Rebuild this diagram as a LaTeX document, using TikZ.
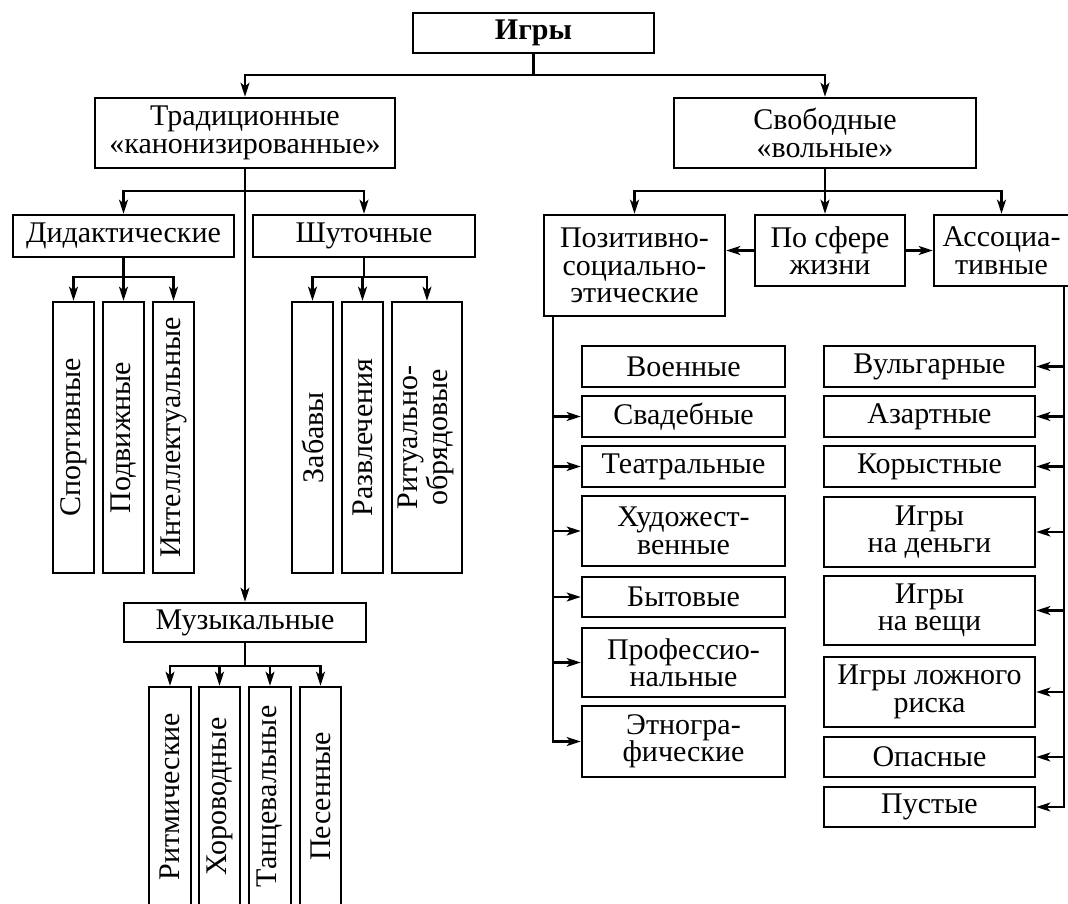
\documentclass[tikz,border=0pt]{standalone}
\usepackage{fontspec}
\setmainfont{Liberation Serif}
\usepackage{graphicx}
\usetikzlibrary{arrows.meta}
\begin{document}
\begin{tikzpicture}[x=1pt,y=-1pt,
  box/.style={draw, line width=2.6pt, inner sep=0pt, align=center,
    font=\fontsize{30}{27.5}\selectfont},
  arr/.style={line width=2.3pt, -{Stealth[length=14pt,width=9pt,inset=3.5pt]}},
  ln/.style={line width=2.3pt}]
\useasboundingbox (0,0) rectangle (1068,904);
\fill[white] (0,0) rectangle (1068,904);
\clip (0,0) rectangle (1068,904);
% top
\node[box, minimum width=241, minimum height=40] (igry) at (533.5,33) {\bfseries Игры};
\node[box, minimum width=300, minimum height=70] (trad) at (245,133) {Традиционные\\«канонизированные»};
\node[box, minimum width=302, minimum height=70] (svob) at (825,133) {Свободные\\«вольные»};
% left branch
\node[box, minimum width=221, minimum height=42] (did) at (123.5,236) {Дидактические};
\node[box, minimum width=222, minimum height=42] (shut) at (364,236) {Шуточные};
\node[box, minimum width=41, minimum height=271] (sport) at (73.5,437.5) {\rotatebox{90}{Спортивные}};
\node[box, minimum width=41, minimum height=271] (podv) at (123.5,437.5) {\rotatebox{90}{Подвижные}};
\node[box, minimum width=41, minimum height=271] (intel) at (173.5,437.5) {\rotatebox{90}{Интеллектуальные}};
\node[box, minimum width=41, minimum height=271] (zabav) at (312.5,437.5) {\rotatebox{90}{Забавы}};
\node[box, minimum width=41, minimum height=271] (razvl) at (362.5,437.5) {\rotatebox{90}{Развлечения}};
\node[box, minimum width=70, minimum height=271] (ritual) at (427,437.5) {\rotatebox{90}{\begin{tabular}{@{}c@{}}Ритуально-\\обрядовые\end{tabular}}};
\node[box, minimum width=242, minimum height=39] (muz) at (245,622.5) {Музыкальные};
\node[box, minimum width=42, minimum height=219] (ritm) at (170,796.5) {\rotatebox{90}{Ритмические}};
\node[box, minimum width=41, minimum height=219] (horov) at (219.5,796.5) {\rotatebox{90}{Хороводные}};
\node[box, minimum width=42, minimum height=219] (tanc) at (270,796.5) {\rotatebox{90}{Танцевальные}};
\node[box, minimum width=41, minimum height=219] (pesen) at (320.5,796.5) {\rotatebox{90}{Песенные}};
% right branch
\node[box, minimum width=181, minimum height=101] (pos) at (634.5,265.5) {Позитивно-\\социально-\\этические};
\node[box, minimum width=150, minimum height=71] (sfera) at (830,250.5) {По сфере\\жизни};
\node[box, minimum width=135, minimum height=71] (assoc) at (1001.5,250.5) {Ассоциа-\\тивные};
\node[box, minimum width=203, minimum height=41] (voen) at (683.5,366.5) {Военные};
\node[box, minimum width=203, minimum height=41] (svad) at (683.5,416.5) {Свадебные};
\node[box, minimum width=203, minimum height=41] (teatr) at (683.5,466.5) {Театральные};
\node[box, minimum width=203, minimum height=70] (hud) at (683.5,531) {Художест-\\венные};
\node[box, minimum width=203, minimum height=40] (byt) at (683.5,597) {Бытовые};
\node[box, minimum width=203, minimum height=69] (prof) at (683.5,662.5) {Профессио-\\нальные};
\node[box, minimum width=203, minimum height=71] (etno) at (683.5,741.5) {Этногра-\\фические};
\node[box, minimum width=211, minimum height=41] (vulg) at (929.5,366.5) {Вульгарные};
\node[box, minimum width=211, minimum height=41] (azart) at (929.5,416.5) {Азартные};
\node[box, minimum width=211, minimum height=41] (koryst) at (929.5,466.5) {Корыстные};
\node[box, minimum width=211, minimum height=70] (dengi) at (929.5,532) {Игры\\на деньги};
\node[box, minimum width=211, minimum height=69] (veshi) at (929.5,610.5) {Игры\\на вещи};
\node[box, minimum width=211, minimum height=70] (lozh) at (929.5,692) {Игры ложного\\риска};
\node[box, minimum width=211, minimum height=40] (opas) at (929.5,757) {Опасные};
\node[box, minimum width=211, minimum height=40] (pust) at (929.5,807) {Пустые};
% connectors
\coordinate (b0) at (533.5,75);
\draw[ln] (igry.south) -- (b0);
\draw[arr] (b0) -| (trad.north);
\draw[arr] (b0) -| (svob.north);
\coordinate (b1) at (245,191);
\draw[arr] (trad.south) -- (muz.north);
\draw[arr] (b1) -| (did.north);
\draw[arr] (b1) -| (shut.north);
\coordinate (b2) at (123.5,277);
\draw[ln] (did.south) -- (b2);
\draw[arr] (b2) -| (sport.north);
\draw[arr] (b2) -- (podv.north);
\draw[arr] (b2) -| (intel.north);
\coordinate (b3) at (364,277);
\draw[ln] (shut.south) -- (b3);
\draw[arr] (b3) -| (zabav.north);
\draw[arr] (b3) -| (razvl.north);
\draw[arr] (b3) -| (ritual.north);
\coordinate (b5) at (245,666);
\draw[ln] (muz.south) -- (b5);
\draw[arr] (b5) -| (ritm.north);
\draw[arr] (b5) -| (horov.north);
\draw[arr] (b5) -| (tanc.north);
\draw[arr] (b5) -| (pesen.north);
\coordinate (b4) at (825,191);
\draw[ln] (svob.south) -- (b4);
\draw[arr] (b4) -| (pos.north);
\draw[arr] (b4) -- (b4 |- sfera.north);
\draw[arr] (b4) -| (assoc.north);
\draw[arr] (sfera.west) -- (pos.east |- sfera.west);
\draw[arr] (sfera.east) -- (assoc.west);
\coordinate (pl) at (553,0);
\draw[arr] (pos.south -| pl) |- (etno.west);
\foreach \n in {svad,teatr,hud,byt,prof}
  \draw[arr] (\n.west -| pl) -- (\n.west);
\coordinate (ar) at (1064,0);
\draw[arr] (assoc.south -| ar) |- (pust.east);
\foreach \n in {vulg,azart,koryst,dengi,veshi,lozh,opas}
  \draw[arr] (\n.east -| ar) -- (\n.east);
\end{tikzpicture}
\end{document}
